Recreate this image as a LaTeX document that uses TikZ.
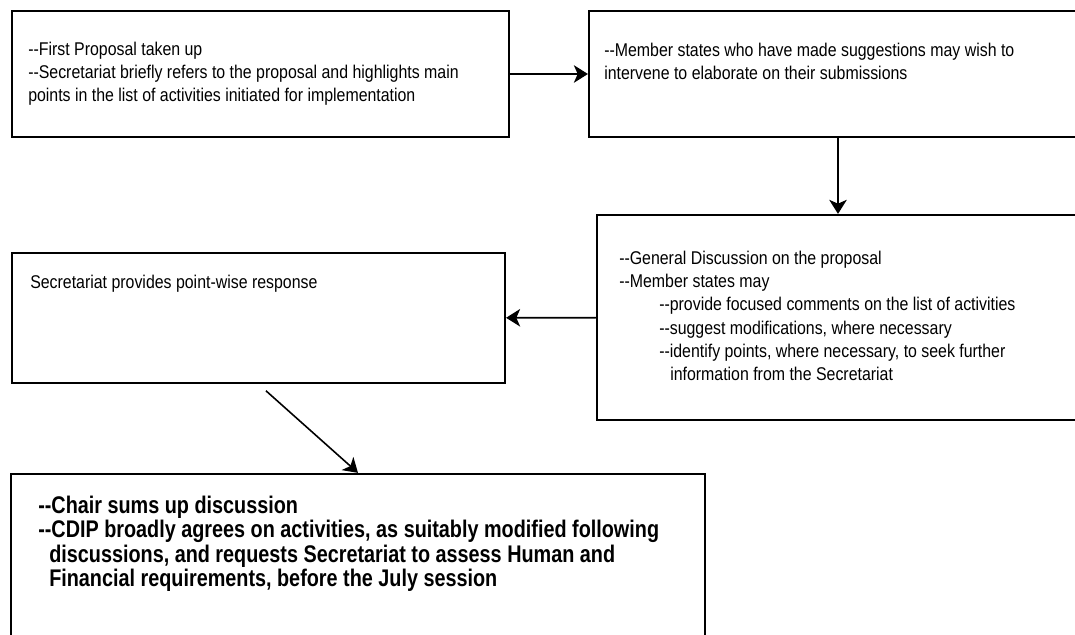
\documentclass[tikz,border=0pt]{standalone}
\usepackage{fontspec}
\setmainfont{Liberation Sans}[FakeStretch=0.862, BoldFeatures={FakeStretch=0.823}, Ligatures=TeXOff]
\usetikzlibrary{positioning, arrows.meta}

\begin{document}
\begin{tikzpicture}[x=0.02cm, y=-0.02cm]
	\tikzset{arrow/.style={-{Stealth[length=8pt, width=10pt, inset=2.2pt]}, line width=0.9pt}}
	\tikzset{box/.style={draw, line width=1.3pt, rectangle, inner sep=0pt}}
	\tikzset{txt/.style={inner sep=0pt, align=left, font=\fontsize{10.5}{13.3}\selectfont}}
	\tikzset{bigtxt/.style={inner sep=0pt, align=left, font=\fontsize{13.7}{13.8}\selectfont\bfseries}}

	\useasboundingbox (0,0) rectangle (1075,635);
	\clip (0,0) rectangle (1075,635);

	% boxes, right and bottom ones run off the page
	\node (b1) [box, minimum width=9.94cm, minimum height=2.52cm] at (260.5,74) {};
	\node (b2) [box, minimum width=9.96cm, minimum height=2.52cm] at (838,74) {};
	\node (b3) [box, minimum width=9.64cm, minimum height=4.10cm] at (838,317.5) {};
	\node (b4) [box, minimum width=9.86cm, minimum height=2.60cm] at (258.5,318) {};
	\node (b5) [box, minimum width=13.88cm, minimum height=3.72cm] at (358,567) {};

	\node (t1) [txt, below right=0.63cm and 0.34cm of b1.north west]
		{--First Proposal taken up\\
		 --Secretariat briefly refers to the proposal and highlights main\\
		 points in the list of activities initiated for implementation};
	\node (t2) [txt, below right=0.65cm and 0.32cm of b2.north west]
		{--Member states who have made suggestions may wish to\\
		 intervene to elaborate on their submissions};
	\node (t3) [txt, below right=0.73cm and 0.46cm of b3.north west]
		{--General Discussion on the proposal\\
		 --Member states may\\
		 \hspace{0.8cm}--provide focused comments on the list of activities\\
		 \hspace{0.8cm}--suggest modifications, where necessary\\
		 \hspace{0.8cm}--identify points, where necessary, to seek further\\
		 \hspace{1.02cm}information from the Secretariat};
	\node (t4) [txt, below right=0.45cm and 0.38cm of b4.north west]
		{Secretariat provides point-wise response};
	\node (t5) [bigtxt, below right=0.46cm and 0.56cm of b5.north west]
		{--Chair sums up discussion\\
		 --CDIP broadly agrees on activities, as suitably modified following\\
		 \hspace{0.22cm}discussions, and requests Secretariat to assess Human and\\
		 \hspace{0.22cm}Financial requirements, before the July session};

	\draw[arrow] (b1) -- (b2);
	\draw[arrow] (b2) -- (b3);
	\draw[arrow] (b3) -- (b4);
	\draw[arrow, shorten <=0.2cm] (b4.south) -- (b5.north);
\end{tikzpicture}
\end{document}
